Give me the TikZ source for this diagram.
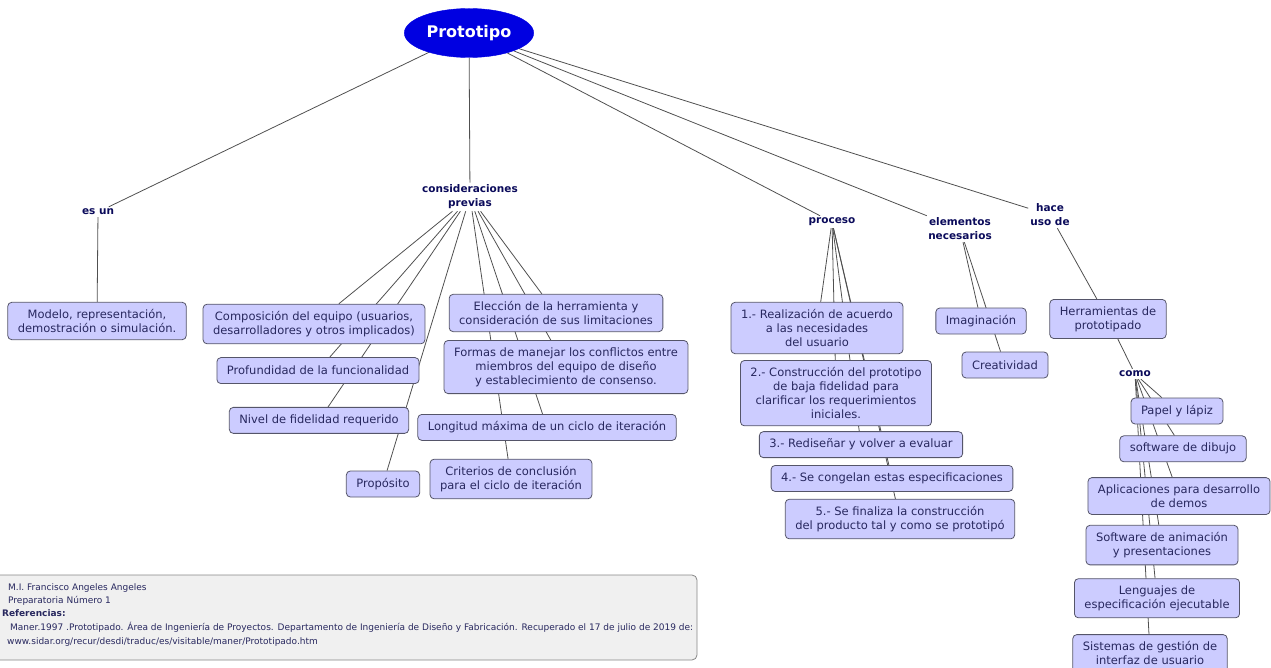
\documentclass[tikz,border=0pt]{standalone}
\usepackage{fontspec}
\setmainfont{DejaVu Sans}
\usetikzlibrary{positioning, shapes.geometric, backgrounds}
\definecolor{azulproto}{RGB}{0,0,225}
\definecolor{lila}{RGB}{204,204,255}
\definecolor{bordecaja}{RGB}{85,85,105}
\definecolor{textocaja}{RGB}{40,40,95}
\definecolor{textoenlace}{RGB}{10,10,90}
\definecolor{grislinea}{RGB}{80,80,80}
\definecolor{fondocred}{RGB}{240,240,240}
\definecolor{bordecred}{RGB}{135,135,135}
\tikzset{
    concepto/.style = {
        rectangle,
        draw=bordecaja,
        fill=lila,
        rounded corners=4pt,
        line width=0.8pt,
        align=center,
        text=textocaja,
        font=\fontsize{11.5}{14}\selectfont,
        inner xsep=10pt,
        inner ysep=7pt,
        minimum height=26pt
    },
    enlace/.style = {align=center, text=textoenlace, font=\fontsize{10.5}{14}\selectfont\bfseries, inner sep=2pt},
    raiz/.style   = {ellipse, fill=azulproto, draw=azulproto, text=white, font=\fontsize{16}{16}\selectfont\bfseries,
                     minimum width=113pt, minimum height=49pt},
    credito/.style = {anchor=base west, inner sep=0pt, text=textocaja, font=\fontsize{9}{11}\selectfont},
    linea/.style = {draw=grislinea, line width=0.8pt}
}

\begin{document}
\begin{tikzpicture}[x=1pt, y=-1pt]
\path[use as bounding box] (0,0) rectangle (1271,668);

% Raiz
\node[raiz] (proto) at (469,33) {Prototipo};

% Frases de enlace
\node[enlace] (esun) at (98,212) {es un};
\node[enlace] (consid) at (470,197) {consideraciones\\previas};
\node[enlace] (proceso) at (832,222) {proceso};
\node[enlace] (elem) at (960,229) {elementos\\necesarios};
\node[enlace] (hace) at (1050,215) {hace\\uso de};

% es un
\node[concepto] (modelo) at (97,321) {Modelo, representación,\\demostración o simulación.};

% --- CONSIDERACIONES PREVIAS ---
\node[concepto] (compo) at (314,324) {Composición del equipo (usuarios,\\desarrolladores y otros implicados)};
\node[concepto, below=13pt of compo, xshift=4pt] (profu) {Profundidad de la funcionalidad};
\node[concepto, below=23pt of profu, xshift=1pt] (nivel) {Nivel de fidelidad requerido};
\node[concepto] (proposito) at (383,484) {Propósito};

\node[concepto] (eleccion) at (556,313) {Elección de la herramienta y\\consideración de sus limitaciones};
\node[concepto, below=8pt of eleccion, xshift=10pt] (formas) {Formas de manejar los conflictos entre\\miembros del equipo de diseño\\y establecimiento de consenso.};
\node[concepto, below=20pt of formas, xshift=-19pt] (longitud) {Longitud máxima de un ciclo de iteración};
\node[concepto, below=18pt of longitud, xshift=-36pt] (criterios) {Criterios de conclusión\\para el ciclo de iteración};

% --- PROCESO ---
\node[concepto] (paso1) at (817,328) {1.- Realización de acuerdo\\a las necesidades\\del usuario};
\node[concepto, below=6pt of paso1, xshift=19pt] (paso2) {2.- Construcción del prototipo\\de baja fidelidad para\\clarificar los requerimientos\\iniciales.};
\node[concepto, below=5pt of paso2, xshift=25pt] (paso3) {3.- Rediseñar y volver a evaluar};
\node[concepto, below=7pt of paso3, xshift=31pt] (paso4) {4.- Se congelan estas especificaciones};
\node[concepto, below=7pt of paso4, xshift=8pt] (paso5) {5.- Se finaliza la construcción\\del producto tal y como se prototipó};

% --- ELEMENTOS NECESARIOS ---
\node[concepto] (imag) at (981,321) {Imaginación};
\node[concepto] (creat) at (1005,365) {Creatividad};

% --- HACE USO DE ---
\node[concepto] (herram) at (1108,319) {Herramientas de\\prototipado};
\node[enlace] (como) at (1135,374) {como};
\node[concepto] (papel) at (1177,411) {Papel y lápiz};
\node[concepto, below=11pt of papel, xshift=6pt] (dibujo) {software de dibujo};
\node[concepto, below=15pt of dibujo, xshift=-4pt] (aplic) {Aplicaciones para desarrollo\\de demos};
\node[concepto, below=10pt of aplic, xshift=-17pt] (anim) {Software de animación\\y presentaciones};
\node[concepto, below=13pt of anim, xshift=-5pt] (lenguajes) {Lenguajes de\\especificación ejecutable};
\node[concepto, below=16pt of lenguajes, xshift=-7pt] (sistemas) {Sistemas de gestión de\\interfaz de usuario};

% Conexiones (detras de las cajas)
\begin{scope}[on background layer]
\draw[linea] (proto) -- (esun);
\draw[linea] (proto) -- (consid);
\draw[linea] (proto) -- (proceso);
\draw[linea] (proto) -- (elem);
\draw[linea] (proto) -- (hace);

\draw[linea] (esun) -- (modelo);

\draw[linea] (consid) -- (compo);
\draw[linea] (consid) -- (profu);
\draw[linea] (consid) -- (nivel);
\draw[linea] (consid) -- (proposito);
\draw[linea] (consid) -- (eleccion);
\draw[linea] (consid) -- (formas);
\draw[linea] (consid) -- (longitud);
\draw[linea] (consid) -- (criterios);

\draw[linea] (proceso) -- (paso1);
\draw[linea] (proceso) -- (paso2);
\draw[linea] (proceso) -- (paso3);
\draw[linea] (proceso) -- (paso4);
\draw[linea] (proceso) -- (paso5);

\draw[linea] (elem) -- (imag);
\draw[linea] (elem) -- (creat);

\draw[linea] (hace) -- (herram);
\draw[linea] (herram) -- (como);
\draw[linea] (como) -- (papel);
\draw[linea] (como) -- (dibujo);
\draw[linea] (como) -- (aplic);
\draw[linea] (como) -- (anim);
\draw[linea] (como) -- (lenguajes);
\draw[linea] (como) -- (sistemas);
\end{scope}

% Creditos
\begin{scope}
\clip (0,0) rectangle (1271,668);
\draw[draw=bordecred, fill=fondocred, rounded corners=5pt, line width=0.8pt] (-20,575) rectangle (697,660);
\node[credito] (autor) at (8,590) {M.I. Francisco Angeles Angeles};
\node[credito] (escuela) at (8,603) {Preparatoria Número 1};
\node[credito, font=\fontsize{9}{11}\selectfont\bfseries] (refs) at (2,616) {Referencias:};
\node[credito] (cita) at (10,630) {Maner.1997 .Prototipado. Área de Ingeniería de Proyectos. Departamento de Ingeniería de Diseño y Fabricación. Recuperado el 17 de julio de 2019 de:};
\node[credito] (url) at (7,644) {www.sidar.org/recur/desdi/traduc/es/visitable/maner/Prototipado.htm};
\end{scope}

\end{tikzpicture}
\end{document}
